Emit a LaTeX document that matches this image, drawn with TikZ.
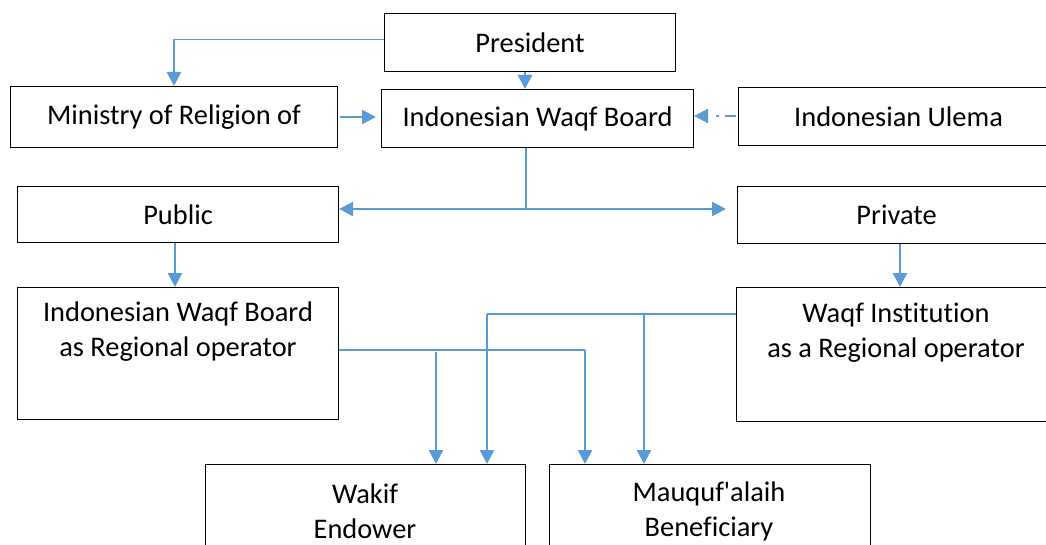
\documentclass[tikz,border=0pt]{standalone}
\usepackage{fontspec}
\setmainfont{Carlito}[Ligatures={TeXOff,NoCommon}]
\usetikzlibrary{arrows.meta}
\definecolor{officeblue}{HTML}{5B9BD5}
\tikzset{
  box/.style={draw=black, line width=1.1pt, inner sep=0pt, anchor=north west,
              font=\fontsize{28.4}{35}\selectfont, align=center},
  txt/.style={inner sep=0pt, font=\fontsize{28.4}{35}\selectfont, align=center},
  thinline/.style={draw=officeblue, line width=1.3pt},
  arr/.style={draw=officeblue, line width=2.5pt,
              -{Triangle[length=14pt,width=14pt]}},
  dbl/.style={draw=officeblue, line width=2.5pt,
              {Triangle[length=14pt,width=14pt]}-{Triangle[length=14pt,width=14pt]}},
  dashdot/.style={draw=officeblue, line width=2.5pt,
              dash pattern=on 11pt off 6pt on 3pt off 9pt},
}
\begin{document}
\begin{tikzpicture}[x=1pt, y=-1pt]
\useasboundingbox (0,0) rectangle (1046,545);
\clip (0,0) rectangle (1046,545);

% boxes
\node[box, minimum width=291pt, minimum height=58pt] (pres) at (384,13) {President};
\node[box, minimum width=327pt, minimum height=61pt] (min) at (10,86) {Ministry of Religion of};
\node[box, minimum width=312pt, minimum height=58pt] (iwb) at (381,89) {Indonesian Waqf Board};
\node[box, minimum width=320pt, minimum height=58pt] (ulema) at (738,87) {Indonesian Ulema};
\node[box, minimum width=318pt, minimum height=57pt] (priv) at (737,186) {Private};
\node[box, minimum width=321pt, minimum height=56pt] (pub) at (17,186) {Public};
\node[box, minimum width=321pt, minimum height=132pt] (iwbr) at (17,287) {};
\node[box, minimum width=320pt, minimum height=134pt] (wi) at (736,287) {};
\node[box, minimum width=320pt, minimum height=120pt] (wakif) at (205,464) {};
\node[box, minimum width=321pt, minimum height=120pt] (mauq) at (549,464) {};

% texts of tall boxes
\node[txt] (iwbrt) at (178,332) {Indonesian Waqf Board\\as Regional operator};
\node[txt] (wit) at (896,333) {Waqf Institution\\as a Regional operator};
\node[txt] (wakift) at (365,511) {Wakif\\Endower};
\node[txt] (mauqt) at (709,511) {Mauquf'alaih\\Beneficiary};

% helper coordinates
\coordinate (pm) at (174,39.5);
\coordinate (p2) at (525,0);
\coordinate (m2) at (0,117);
\coordinate (u2) at (0,116);
\coordinate (bv) at (526,209);
\coordinate (c175) at (175,0);
\coordinate (c900) at (900,0);
\coordinate (r1) at (585,350);
\coordinate (r2) at (436,351.5);
\coordinate (w1) at (487,314);
\coordinate (w2) at (644,315);

% connectors
\draw[thinline] (pres.west |- pm) -- (pm);
\draw[arr] (pm) -- (min.north -| pm);
\draw[arr] (pres.south -| p2) -- (iwb.north -| p2);
\draw[arr, shorten <=2pt, shorten >=5pt] (min.east |- m2) -- (iwb.west |- m2);
\draw[dashdot, -{Triangle[length=14pt,width=14pt]}, shorten <=2pt]
  (ulema.west |- u2) -- (iwb.east |- u2);
\draw[thinline] (iwb.south -| bv) -- (bv);
\draw[dbl, shorten >=11pt] (pub.east |- bv) -- (priv.west |- bv);
\draw[arr] (pub.south -| c175) -- (iwbr.north -| c175);
\draw[arr] (priv.south -| c900) -- (wi.north -| c900);

\draw[thinline] (iwbr.east |- r1) -- (r1);
\draw[arr] (r1) -- (mauq.north -| r1);
\draw[arr] (r2) -- (wakif.north -| r2);
\draw[thinline] (wi.west |- w1) -- (w1);
\draw[arr] (w1) -- (wakif.north -| w1);
\draw[arr] (w2) -- (mauq.north -| w2);
\end{tikzpicture}
\end{document}
